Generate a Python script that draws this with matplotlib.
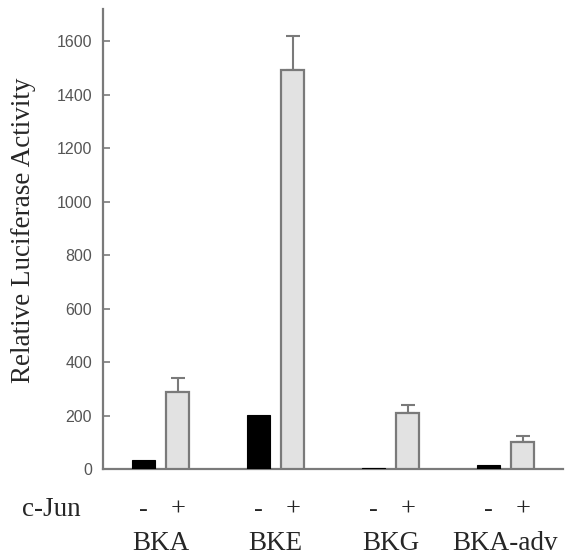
import matplotlib
matplotlib.use("Agg")
import matplotlib.pyplot as plt
import numpy as np

groups = ["BKA", "BKE", "BKG", "BKA-adv"]
minus_vals = [35, 202, 3, 15]
plus_vals = [288, 1491, 210, 101]
plus_err = [53, 128, 30, 22]
yticks = [0, 200, 400, 600, 800, 1000, 1200, 1400, 1600]

W, H = 573, 557
fig = plt.figure(figsize=(W / 100, H / 100), dpi=100)
ax = fig.add_axes([103 / W, 88 / H, 460 / W, 460 / H])

x = np.arange(len(groups))
off = 0.15
w = 0.196
gray = "#7a7a7a"
txt = "#262626"

ax.bar(x - off, minus_vals, width=w, color="black", edgecolor="black", linewidth=0.8, zorder=3)
ax.bar(x + off, plus_vals, width=w, color="#e2e2e2", edgecolor=gray, linewidth=1.6, zorder=3)
ax.errorbar(x + off, plus_vals, yerr=[np.zeros(len(plus_err)), plus_err], fmt="none",
            ecolor=gray, elinewidth=1.5, capsize=5, capthick=1.5, zorder=2)

ax.set_xlim(-0.5, 3.5)
ax.set_ylim(0, 1720)
ax.set_yticks(yticks)
ax.set_yticklabels([str(v) for v in yticks], fontfamily="Liberation Sans", fontsize=11.5, color="#555555")
ax.tick_params(axis="y", direction="in", length=5, width=1.2, color=gray, pad=8)
ax.set_xticks([])
for s in ["top", "right"]:
    ax.spines[s].set_visible(False)
for s in ["left", "bottom"]:
    ax.spines[s].set_color(gray)
    ax.spines[s].set_linewidth(1.6)

fig.text(24 / W, 1 - 230 / H, "Relative Luciferase Activity", rotation=90, ha="center", va="center",
         fontfamily="Liberation Serif", fontsize=19.5, color=txt)

trans = ax.get_xaxis_transform()
for i, g in enumerate(groups):
    ax.text(i - off, -0.089, "-", transform=trans, ha="center", va="center",
            fontfamily="Liberation Serif", fontsize=19, color=txt)
    ax.text(i + off, -0.089, "+", transform=trans, ha="center", va="center",
            fontfamily="Liberation Serif", fontsize=19, color=txt)
    ax.text(i, -0.163, g, transform=trans, ha="center", va="center",
            fontfamily="Liberation Serif", fontsize=19.5, color=txt)
fig.text(51 / W, 1 - 510 / H, "c-Jun", ha="center", va="center",
         fontfamily="Liberation Serif", fontsize=19.5, color=txt)

fig.savefig("out.png", dpi=100)
